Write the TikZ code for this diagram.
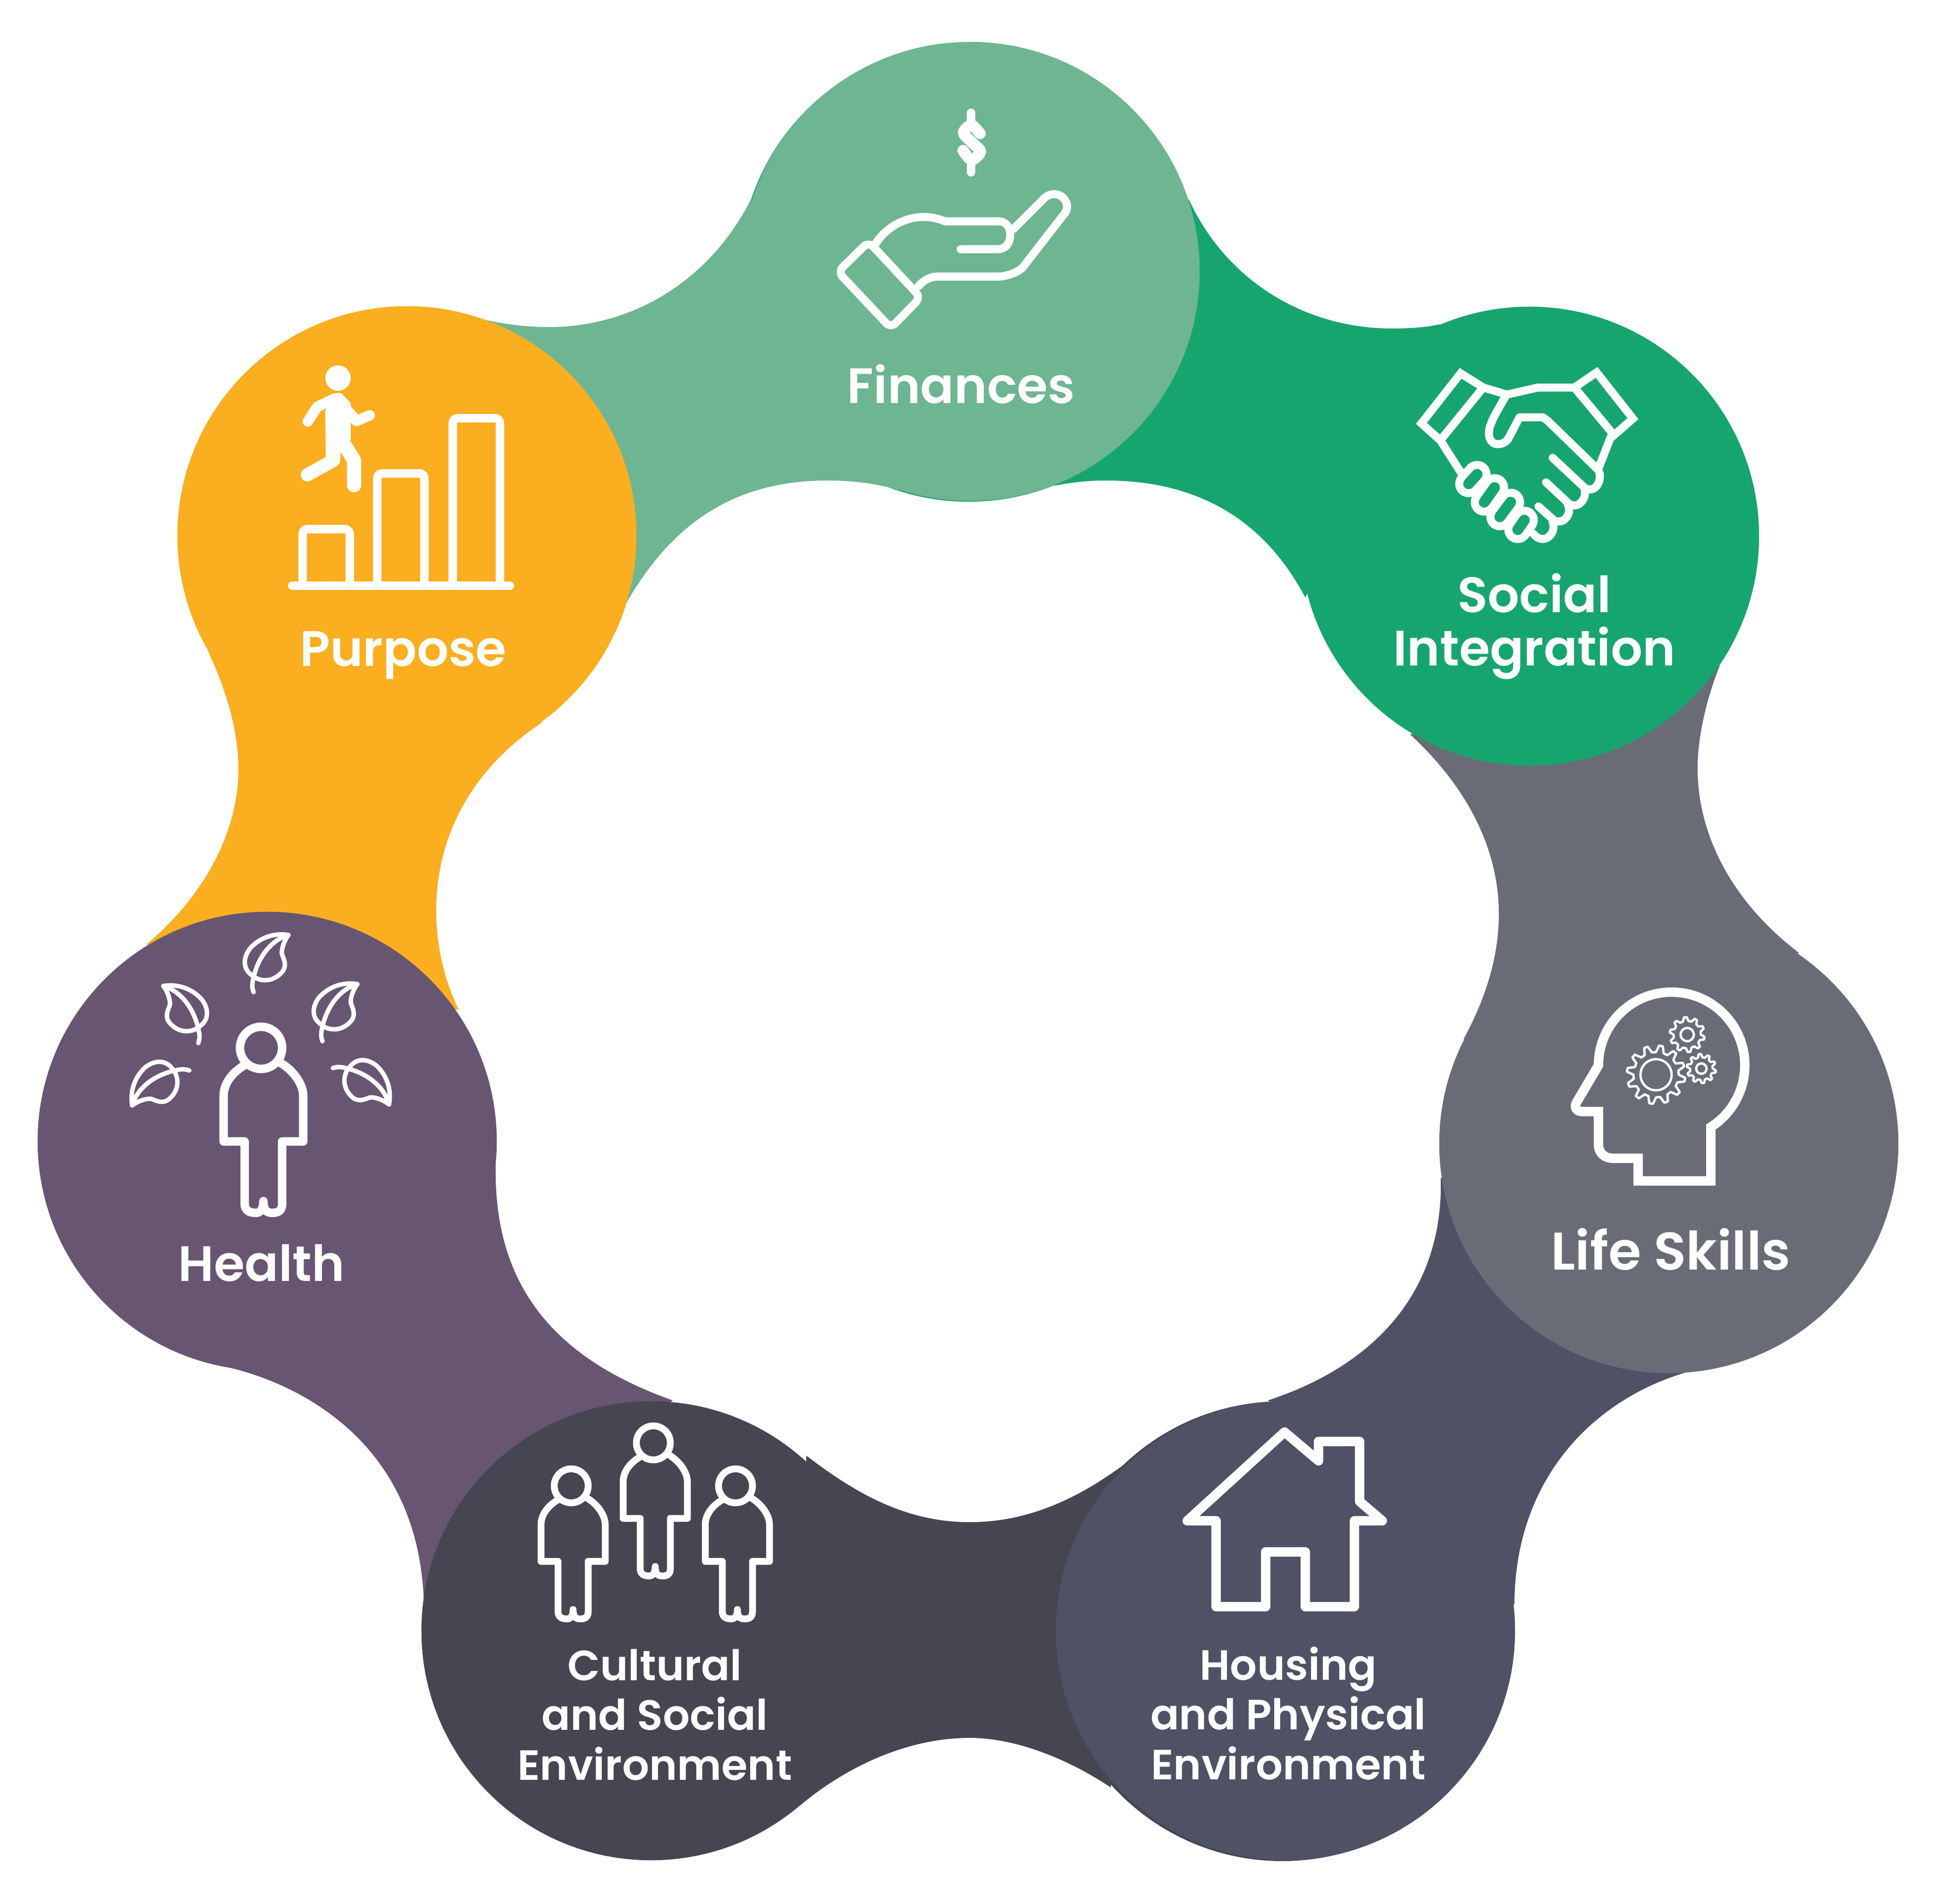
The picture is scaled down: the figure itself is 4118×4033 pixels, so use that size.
\documentclass[tikz,border=0pt]{standalone}
\usepackage{fontspec}
\setmainfont{Poppins SemiBold}
\definecolor{vertpale}{HTML}{6EB591}
\definecolor{vert}{HTML}{17A56F}
\definecolor{gris}{HTML}{696C77}
\definecolor{ardoise}{HTML}{4F5165}
\definecolor{sombre}{HTML}{464552}
\definecolor{violet}{HTML}{675572}
\definecolor{orange}{HTML}{FBAE20}
\begin{document}
\begin{tikzpicture}[x=0.01cm, y=-0.01cm]
\tikzset{rond/.style={circle, minimum size=9.72cm, inner sep=0pt}}
\tikzset{etiq/.style={text=white, anchor=base, align=center, inner sep=0pt, font=\fontsize{30}{32}\selectfont}}
\tikzset{etiqb/.style={etiq, font=\fontsize{25.5}{30}\selectfont}}
\tikzset{bord/.style={draw=white, line cap=round, line join=round}}
\tikzset{trait/.style={bord, line width=0.17cm}}
\tikzset{bonhomme/.pic={
  \draw[bord] (0,0) circle (36);
  \draw[bord] (-27,29) .. controls (-50,42) and (-64,62) .. (-64,82) -- (-64,160) -- (-28,160) -- (-28,266)
    .. controls (-28,278) and (-20,282) .. (-9,282) .. controls (-3,282) and (4,278) .. (4,262)
    .. controls (4,278) and (10,282) .. (19,282) .. controls (30,282) and (36,278) .. (36,266)
    -- (36,160) -- (72,160) -- (72,82) .. controls (72,62) and (55,38) .. (32,25);
}}
\tikzset{feuille/.pic={
  \draw[trait, line width=0.095cm] (0,0) .. controls (-35,10) and (-65,45) .. (-75,95) .. controls (-78,108) and (-76,115) .. (-74,121);
  \draw[trait, line width=0.095cm] (0,0) .. controls (-30,-5) and (-60,5) .. (-81,28) .. controls (-98,50) and (-95,72) .. (-79,84)
    .. controls (-62,100) and (-35,100) .. (-17,82) .. controls (-2,68) and (-8,55) .. (-14,40) .. controls (-15,28) and (-8,10) .. (0,0);
}}
\useasboundingbox (0,0) rectangle (4118,4033);
\fill[vert] (2052,577) circle (486);
\fill[sombre] (2716,3456) circle (487);
\fill[vertpale] (1590,424) .. controls (1500,600) and (1335,693) .. (1163,693) .. controls (1115,693) and (1070,687) .. (1024,677)
  -- (1326,1279) .. controls (1425,1105) and (1560,1018) .. (1753,1018) .. controls (1810,1018) and (1860,1025) .. (1910,1040) -- cycle;
\fill[vert] (3050,687) .. controls (3020,694) and (2985,696) .. (2948,696) .. controls (2770,696) and (2600,600) .. (2518,422)
  -- (2234,1029) .. controls (2270,1022) and (2305,1018) .. (2342,1018) .. controls (2530,1018) and (2675,1095) .. (2765,1266) -- cycle;
\fill[gris] (3643,1410) .. controls (3615,1480) and (3596,1560) .. (3596,1628) .. controls (3596,1780) and (3680,1920) .. (3811,2019)
  -- (3100,2202) .. controls (3145,2120) and (3175,2030) .. (3175,1937) .. controls (3175,1790) and (3100,1660) .. (2987,1556) -- cycle;
\fill[ardoise] (3581,2905) .. controls (3380,2960) and (3208,3130) .. (3208,3400)
  -- (2686,2967) .. controls (2920,2890) and (3058,2730) .. (3052,2495) -- cycle;
\fill[sombre] (1708,3084) .. controls (1820,3170) and (1925,3225) .. (2054,3225) .. controls (2185,3225) and (2295,3170) .. (2405,3085)
  -- (2353,3787) .. controls (2260,3725) and (2150,3682) .. (2054,3682) .. controls (1920,3682) and (1790,3745) .. (1695,3825) -- cycle;
\fill[violet] (488,2898) .. controls (640,2935) and (890,3060) .. (898,3400)
  -- (1425,2967) .. controls (1180,2880) and (1045,2730) .. (1050,2468) -- cycle;
\fill[orange] (440,1378) .. controls (478,1460) and (505,1545) .. (505,1630) .. controls (505,1770) and (425,1905) .. (310,2001)
  -- (972,2140) .. controls (940,2075) and (924,2000) .. (924,1930) .. controls (924,1765) and (1005,1625) .. (1148,1531) -- cycle;
\node[rond, fill=vertpale] (V1) at (2055,575) {};
\node[rond, fill=vert] (V2) at (3240,1136) {};
\node[rond, fill=gris] (V3) at (3535,2423) {};
\node[rond, fill=ardoise] (V4) at (2723,3455) {};
\node[rond, fill=sombre] (V5) at (1379,3455) {};
\node[rond, fill=violet] (V6) at (566,2418) {};
\node[rond, fill=orange] (V7) at (862,1135) {};
\node[etiq] (L1) at (2036,854) {Finances};
\node[etiq] (L2) at (3250,1410) {Social\\Integration};
\node[etiq, font=\fontsize{32}{32}\selectfont] (L3) at (3539,2690) {Life Skills};
\node[etiqb] (L4) at (2729,3770) {Housing\\and Physical\\Environment};
\node[etiqb] (L5) at (1387,3771) {Cultural\\and Social\\Environment};
\node[etiq] (L6) at (554,2714) {Health};
\node[etiq] (L7) at (854,1411) {Purpose};
\draw[trait, line width=0.24cm] plot[smooth] coordinates {(2076,283) (2058,265) (2041,281) (2058,301) (2077,321) (2058,339) (2040,319)};
\draw[trait, line width=0.18cm] (2057,239) -- (2057,254);
\draw[trait, line width=0.18cm] (2057,348) -- (2057,365);
\draw[trait, rounded corners=4pt] (1775,576) -- (1840,512) -- (1950,630) -- (1887,695) -- cycle;
\draw[trait] (1855,516) .. controls (1885,470) and (1945,445) .. (2002,469) -- (2114,469) .. controls (2132,469) and (2140,482) .. (2140,497)
  .. controls (2140,515) and (2130,528) .. (2114,528) -- (2035,528);
\draw[trait] (2147,485) -- (2209,423) .. controls (2222,408) and (2242,408) .. (2253,420) .. controls (2264,432) and (2262,445) .. (2253,455)
  -- (2167,566) .. controls (2155,578) and (2135,584) .. (2118,586) -- (1985,586) .. controls (1970,586) and (1955,595) .. (1946,606);
\draw[trait, line join=miter] (3094,791) -- (3011,897) -- (3051,933) -- (3142,821) -- cycle;
\draw[trait, line join=miter] (3382,789) -- (3459,887) -- (3419,922) -- (3335,821) -- cycle;
\draw[trait] (3142,821) -- (3192,836) -- (3258,821) -- (3335,821);
\draw[trait] (3053,936) -- (3094,1000);
\draw[trait] (3412,926) -- (3387,990);
\draw[trait] (3190,838) .. controls (3175,865) and (3165,880) .. (3157,901) .. controls (3150,920) and (3155,941) .. (3173,941) .. controls (3185,941) and (3190,935) .. (3194,931)
  -- (3219,884) -- (3268,884) -- (3279,892) -- (3385,995) .. controls (3395,1010) and (3385,1037) .. (3368,1037) .. controls (3362,1037) and (3355,1033) .. (3351,1028) -- (3289,970);
\draw[trait] (3356,1035) .. controls (3362,1050) and (3350,1071) .. (3335,1071) .. controls (3328,1071) and (3322,1067) .. (3318,1062) -- (3275,1022);
\draw[trait] (3321,1069) .. controls (3330,1085) and (3317,1105) .. (3302,1105) .. controls (3296,1105) and (3292,1103) .. (3289,1100) -- (3259,1073);
\draw[trait] (3289,1107) .. controls (3296,1122) and (3283,1142) .. (3268,1142) .. controls (3260,1142) and (3253,1137) .. (3248,1131);
\foreach \xa/\ya/\xb/\yb in {3111/1025/3129/1005, 3144/1064/3166/1033, 3177/1095/3200/1064, 3215/1122/3229/1102}
  \draw[trait, line width=0.57cm] (\xa,\ya) -- (\xb,\yb);
\foreach \xa/\ya/\xb/\yb in {3111/1025/3129/1005, 3144/1064/3166/1033, 3177/1095/3200/1064, 3215/1122/3229/1102}
  \draw[vert, line cap=round, line width=0.23cm] (\xa,\ya) -- (\xb,\yb);
\draw[trait, line width=0.2cm, line join=miter] (3386,2257) arc[start angle=180, end angle=417.6, radius=155] -- (3624,2502) -- (3470,2502) -- (3470,2454) -- (3417,2454)
  .. controls (3398,2454) and (3386,2442) .. (3386,2425) -- (3386,2355) -- (3352,2355) .. controls (3338,2355) and (3334,2345) .. (3340,2335) -- cycle;
\foreach \cx/\cy/\re/\ri/\n/\rt in {3508/2277/62/48/12/33, 3574/2192/37/29/10/14, 3604/2264/31/24/10/11} {
  \begin{scope}[shift={(\cx,\cy)}]
  \draw[trait, line width=0.05cm] (0:\ri) \foreach \k in {1,...,\n} {
    -- ({(\k-1+0.2)*360/\n}:\re) -- ({(\k-1+0.45)*360/\n}:\re) -- ({(\k-1+0.65)*360/\n}:\ri) -- ({\k*360/\n}:\ri)} -- cycle;
  \draw[trait, line width=0.05cm] (0,0) circle (\rt);
  \end{scope}
}
\draw[trait, line width=0.2cm] (2721,3034) -- (2515,3222) -- (2576,3222) -- (2576,3404) -- (2681,3404) -- (2681,3288) -- (2765,3288) -- (2765,3404) -- (2869,3404)
  -- (2869,3222) -- (2928,3222) -- (2880,3181) -- (2880,3054) -- (2793,3054) -- (2793,3095) -- cycle;
\pic[line width=0.145cm] (P1) at (1384,3057) {bonhomme};
\pic[line width=0.145cm] (P2) at (1210,3148) {bonhomme};
\pic[line width=0.145cm] (P3) at (1558,3148) {bonhomme};
\pic[scale=1.24, line width=0.18cm] (P4) at (553,2220) {bonhomme};
\pic (F1) at (611,1981) {feuille};
\pic (F2) at (757,2085) {feuille};
\pic[xscale=-1] (F3) at (346,2089) {feuille};
\pic[rotate=90, xscale=-1] (F4) at (280,2342) {feuille};
\pic[rotate=-91.5] (F5) at (824,2340) {feuille};
\fill[white] (716,801) circle (27);
\fill[white, rounded corners=1pt] (689,870) -- (703,834) -- (722,832) -- (743,854) -- (743,933) -- (721,957) -- (721,979) -- (690,969) -- cycle;
\draw[trait, line width=0.22cm] (707,845) -- (672,862) -- (652,893);
\draw[trait, line width=0.22cm] (730,862) -- (755,892) -- (783,880);
\draw[trait, line width=0.28cm] (707,975) -- (651,1006);
\draw[trait, line width=0.3cm] (725,935) -- (750,975) -- (750,1028);
\draw[trait, line width=0.18cm] (619,1241) -- (1080,1241);
\draw[trait, line width=0.18cm, rounded corners=3pt] (641,1241) -- (641,1121) -- (741,1121) -- (741,1241);
\draw[trait, line width=0.18cm, rounded corners=3pt] (799,1241) -- (799,1003) -- (899,1003) -- (899,1241);
\draw[trait, line width=0.18cm, rounded corners=3pt] (959,1241) -- (959,886) -- (1059,886) -- (1059,1241);
\end{tikzpicture}
\end{document}
